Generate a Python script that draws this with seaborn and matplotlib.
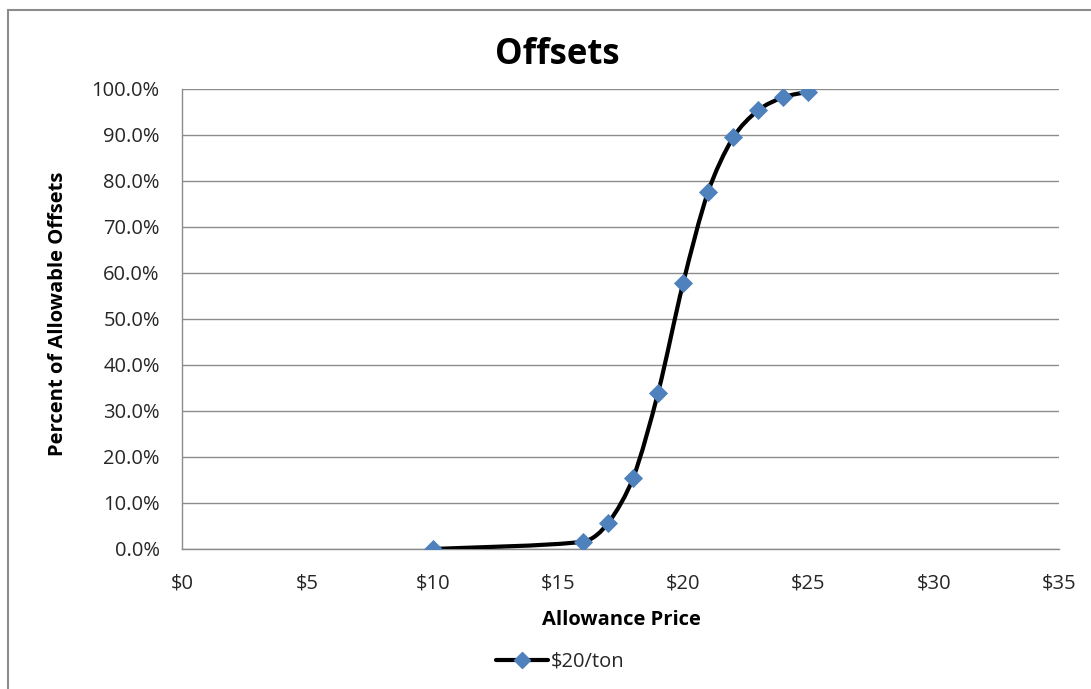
import numpy as np
import pandas as pd
import matplotlib
matplotlib.use("Agg")
import matplotlib.pyplot as plt
import seaborn as sns
from matplotlib.path import Path
from matplotlib.patches import PathPatch, Rectangle
from matplotlib.lines import Line2D
from matplotlib.ticker import FuncFormatter, MultipleLocator

# Allowance price ($/ton) and share of allowable offsets used (%)
price = [10, 16, 17, 18, 19, 20, 21, 22, 23, 24, 25]
pct_offsets = [0.0, 1.6, 5.6, 15.4, 34.0, 57.8, 77.7, 89.5, 95.4, 98.2, 99.4]
series_name = "$20/ton"

df = pd.DataFrame({"price": price, "pct": pct_offsets})

sns.set_theme(style="white")
plt.rcParams["font.family"] = ["Open Sans", "DejaVu Sans"]

fig = plt.figure(figsize=(10.91, 6.89), dpi=100)
ax = fig.add_axes([182 / 1091, 1 - 549 / 689, (1059 - 182) / 1091, (549 - 89) / 689])
ax.set_xlim(0, 35)
ax.set_ylim(0, 100)

grid_c = "#8c8c8c"
text_c = "#262626"
marker_c = "#4F81BD"

# Smoothed connecting line: cubic Bezier segments built in display space.
# Tangent follows the neighbouring chord; handle length is the smaller of
# a sixth of that chord and a third of the segment itself.
pts = ax.transData.transform(df[["price", "pct"]].to_numpy(dtype=float))
n = len(pts)
tang_dir, tang_len = [], []
for i in range(n):
    d = pts[min(i + 1, n - 1)] - pts[max(i - 1, 0)]
    L = np.hypot(*d)
    tang_dir.append(d / L)
    tang_len.append(L / 6.0)
verts = [pts[0]]
codes = [Path.MOVETO]
for i in range(n - 1):
    seg = np.hypot(*(pts[i + 1] - pts[i]))
    c1 = pts[i] + tang_dir[i] * min(tang_len[i], seg / 3.0)
    c2 = pts[i + 1] - tang_dir[i + 1] * min(tang_len[i + 1], seg / 3.0)
    verts += [c1, c2, pts[i + 1]]
    codes += [Path.CURVE4] * 3
verts = ax.transData.inverted().transform(np.array(verts))
ax.add_patch(PathPatch(Path(verts, codes), facecolor="none", edgecolor="black",
                       lw=3.0, zorder=3, capstyle="round", joinstyle="round"))

sns.scatterplot(data=df, x="price", y="pct", marker="D", s=95, color=marker_c,
                edgecolor=marker_c, linewidth=0, zorder=4, ax=ax, legend=False)

ax.xaxis.set_major_locator(MultipleLocator(5))
ax.yaxis.set_major_locator(MultipleLocator(10))
ax.xaxis.set_major_formatter(FuncFormatter(lambda v, _: f"${v:.0f}"))
ax.yaxis.set_major_formatter(FuncFormatter(lambda v, _: f"{v:.1f}%"))

ax.grid(axis="y", color=grid_c, lw=1.0)
ax.grid(axis="x", visible=False)
ax.set_axisbelow(True)
for side in ("top", "right"):
    ax.spines[side].set_visible(False)
for side in ("left", "bottom"):
    ax.spines[side].set_color(grid_c)
    ax.spines[side].set_linewidth(1.0)

ax.tick_params(axis="both", which="major", direction="out", length=6, width=1,
               color=grid_c, labelsize=14.5, labelcolor=text_c)
ax.tick_params(axis="x", pad=12)
ax.tick_params(axis="y", pad=10)

ax.set_xlabel("Allowance Price", fontsize=14.5, fontweight="bold", color="black")
ax.xaxis.set_label_coords((621 - 182) / 877, (549 - 610) / 460)
ax.set_ylabel("Percent of Allowable Offsets", fontsize=14.5, fontweight="bold", color="black")
ax.yaxis.set_label_coords((68 - 182) / 877, (549 - 314) / 460)
fig.text(557 / 1091, 1 - 55 / 689, "Offsets", ha="center", va="center",
         fontsize=25, fontweight="bold", color="black")

handle = Line2D([], [], color="black", lw=3, marker="D", markersize=8,
                markerfacecolor=marker_c, markeredgecolor=marker_c)
fig.legend([handle], [series_name], loc="center", bbox_to_anchor=(560 / 1091, 1 - 662 / 689),
           frameon=False, fontsize=14.5, handlelength=2.6, handletextpad=0.1,
           labelcolor=text_c)

# Outer chart-area frame
fig.patches.append(Rectangle((8 / 1091, -0.05), 1.1, 1 - 9.5 / 689 + 0.05,
                             transform=fig.transFigure, fill=False,
                             edgecolor="#8c8c8c", lw=1.5, zorder=0))

fig.savefig("out.png", dpi=100)
